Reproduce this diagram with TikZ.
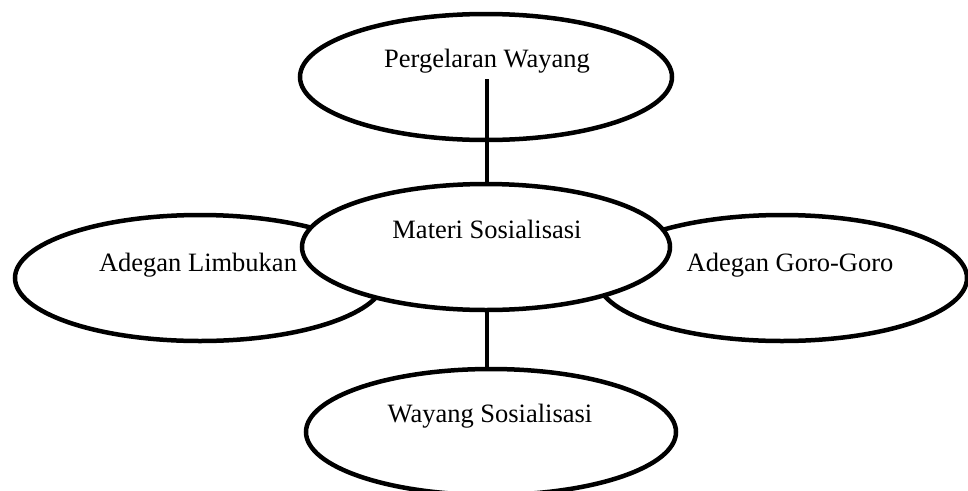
\documentclass[tikz,border=0pt]{standalone}
\usepackage{fontspec}
\setmainfont{Liberation Serif}
\usetikzlibrary{shapes.geometric}
\begin{document}
\begin{tikzpicture}[x=1pt,y={(0pt,-1pt)},
  oval/.style={ellipse,draw=black,fill=white,line width=4.5pt,inner sep=0pt,
    minimum width=370pt,minimum height=126pt},
  lbl/.style={anchor=base,inner sep=0pt,font=\fontsize{26.5}{30}\selectfont},
  link/.style={draw=black,line width=4pt}]
\useasboundingbox (0,0) rectangle (968,490);
\clip (0,0) rectangle (968,490);
\node[oval] (left) at (200,278) {};
\node[oval] (right) at (782,278) {};
\node[oval,minimum width=368pt] (mid) at (486,247) {};
\node[oval,minimum width=372pt] (top) at (486,77) {};
\node[oval] (bot) at (491,432) {};
\node[lbl] (ttop) at (487,67) {Pergelaran Wayang};
\node[lbl] (tmid) at (487,238) {Materi Sosialisasi};
\node[lbl] (tleft) at (198,271) {Adegan Limbukan};
\node[lbl] (tright) at (790,271) {Adegan Goro-Goro};
\node[lbl] (tbot) at (490,422) {Wayang Sosialisasi};
\coordinate (tstart) at (487,79);
\coordinate (bstart) at (487,300);
\path[link] (tstart) -- (tstart |- mid.north);
\path[link] (bstart |- mid.south) -- (bstart |- bot.north);
\end{tikzpicture}
\end{document}
